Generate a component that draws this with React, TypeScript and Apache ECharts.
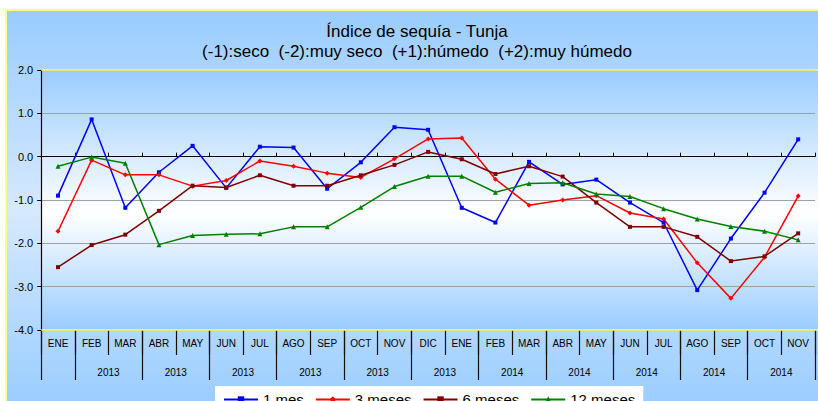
import React, { useEffect, useRef } from "react";
import * as echarts from "echarts";

const months = ["ENE","FEB","MAR","ABR","MAY","JUN","JUL","AGO","SEP","OCT","NOV","DIC","ENE","FEB","MAR","ABR","MAY","JUN","JUL","AGO","SEP","OCT","NOV"];
const yearLabels = ["", "", "2013", "", "2013", "", "2013", "", "2013", "", "2013", "", "2013", "", "2014", "", "2014", "", "2014", "", "2014", "", "2014", ""];
const mes1 = [-0.9, 0.86, -1.18, -0.36, 0.25, -0.72, 0.23, 0.21, -0.74, -0.13, 0.68, 0.62, -1.18, -1.52, -0.12, -0.64, -0.53, -1.06, -1.52, -3.08, -1.89, -0.83, 0.4];
const mes3 = [-1.72, -0.08, -0.42, -0.42, -0.68, -0.55, -0.1, -0.22, -0.38, -0.48, -0.05, 0.41, 0.43, -0.52, -1.12, -1.0, -0.9, -1.3, -1.44, -2.45, -3.27, -2.32, -0.91];
const mes6 = [-2.55, -2.04, -1.8, -1.25, -0.67, -0.71, -0.43, -0.67, -0.67, -0.43, -0.19, 0.11, -0.06, -0.4, -0.22, -0.46, -1.06, -1.62, -1.62, -1.85, -2.41, -2.3, -1.77];
const mes12 = [-0.22, -0.01, -0.15, -2.03, -1.82, -1.79, -1.78, -1.62, -1.62, -1.17, -0.69, -0.45, -0.45, -0.82, -0.62, -0.6, -0.86, -0.92, -1.2, -1.44, -1.61, -1.72, -1.92];

const titleText = "Índice de sequía - Tunja";
const subtitleText = "(-1):seco  (-2):muy seco  (+1):húmedo  (+2):muy húmedo";

const FONT = "Liberation Sans, Arial, sans-serif";

export default function App() {
  const ref = useRef<HTMLDivElement>(null);
  useEffect(() => {
    if (!ref.current) return;
    const chart = echarts.init(ref.current, null, { renderer: "svg" });
    const GL = 41.2, GT = 70, GW = 786.6, GH = 260;
    const mkSeries = (name: string, data: number[], color: string, symbol: string, size: number) => ({
      name,
      type: "line",
      data,
      xAxisIndex: 0,
      yAxisIndex: 0,
      symbol,
      symbolSize: size,
      showSymbol: true,
      lineStyle: { color, width: 1.5 },
      itemStyle: { color, borderWidth: 0 },
      z: 5,
    });
    chart.setOption({
      animation: false,
      textStyle: { fontFamily: FONT },
      graphic: [
        {
          type: "rect",
          z: -20,
          shape: { x: 6, y: 10, width: 830, height: 400 },
          style: {
            fill: new echarts.graphic.LinearGradient(0, 0, 0, 1, [
              { offset: 0, color: "#99ccff" },
              { offset: 0.5, color: "#d6e9ff" },
              { offset: 1, color: "#99ccff" },
            ]),
            stroke: "#ffff80",
            lineWidth: 2,
          },
        },
        {
          type: "rect",
          z: -10,
          shape: { x: GL, y: GT, width: GW, height: GH },
          style: {
            fill: new echarts.graphic.LinearGradient(0, 0, 0, 1, [
              { offset: 0, color: "#99ccff" },
              { offset: 0.55, color: "#ffffff" },
              { offset: 1, color: "#99ccff" },
            ]),
          },
        },
        { type: "line", z: 1, shape: { x1: GL, y1: GT, x2: GL + GW, y2: GT }, style: { stroke: "#ffff66", lineWidth: 1.5 } },
        { type: "line", z: 1, shape: { x1: GL, y1: GT + GH, x2: GL + GW, y2: GT + GH }, style: { stroke: "#ffff66", lineWidth: 1.5 } },
        {
          type: "text", z: 10, x: 417, y: 31,
          style: { text: titleText, align: "center", verticalAlign: "middle", font: `17px ${FONT}`, fill: "#000" },
        },
        {
          type: "text", z: 10, x: 417, y: 51,
          style: { text: subtitleText, align: "center", verticalAlign: "middle", font: `17px ${FONT}`, fill: "#000" },
        },
      ],
      grid: { left: GL, top: GT, width: GW, height: GH, containLabel: false },
      legend: {
        left: 215,
        top: 386,
        backgroundColor: "#ffffff",
        padding: [6, 8, 12, 8],
        itemWidth: 34,
        itemHeight: 8,
        itemGap: 11,
        textStyle: { fontSize: 15, color: "#000", fontFamily: FONT },
        data: ["1 mes", "3 meses", "6 meses", "12 meses"],
      },
      xAxis: [
        {
          type: "category",
          data: months,
          boundaryGap: true,
          axisLine: { onZero: true, lineStyle: { color: "#000", width: 1.2 } },
          axisTick: { show: true, inside: true, length: 4, interval: 0, lineStyle: { color: "#000" } },
          axisLabel: { show: false },
          splitLine: { show: false },
          z: 3,
        },
        {
          type: "category",
          data: months,
          boundaryGap: true,
          position: "bottom",
          axisLine: { show: false, onZero: false },
          axisTick: { show: true, inside: false, length: 25, interval: 0, lineStyle: { color: "#111", width: 1.2 } },
          axisLabel: { show: true, interval: 0, margin: 8, fontSize: 10, color: "#000", fontFamily: FONT },
          splitLine: { show: false },
        },
        {
          type: "category",
          data: yearLabels,
          boundaryGap: false,
          position: "bottom",
          axisLine: { show: false, onZero: false },
          axisTick: {
            show: true,
            inside: false,
            length: 50,
            interval: (i: number) => i === 0 || i % 2 === 1,
            lineStyle: { color: "#111", width: 1.2 },
          },
          axisLabel: { show: true, interval: 0, margin: 37, fontSize: 10, color: "#000", fontFamily: FONT },
          splitLine: { show: false },
        },
      ],
      yAxis: {
        type: "value",
        min: -4,
        max: 2,
        interval: 1,
        axisLine: { show: true, lineStyle: { color: "#000", width: 1.2 } },
        axisTick: { show: true, inside: false, length: 4, lineStyle: { color: "#000" } },
        axisLabel: { fontSize: 11, color: "#000", margin: 8, formatter: (v: number) => v.toFixed(1), fontFamily: FONT },
        splitLine: { show: true, lineStyle: { color: "#a0a0a0", width: 1 } },
      },
      series: [
        mkSeries("1 mes", mes1, "#0000ff", "rect", 4),
        mkSeries("3 meses", mes3, "#ff0000", "diamond", 5),
        mkSeries("6 meses", mes6, "#800000", "rect", 4),
        mkSeries("12 meses", mes12, "#008000", "triangle", 5),
      ],
    });
    return () => chart.dispose();
  }, []);
  return (
    <div
      ref={ref}
      style={{ position: "fixed", left: 0, top: 0, width: 818, height: 401, background: "#ffffff", overflow: "hidden" }}
    />
  );
}
